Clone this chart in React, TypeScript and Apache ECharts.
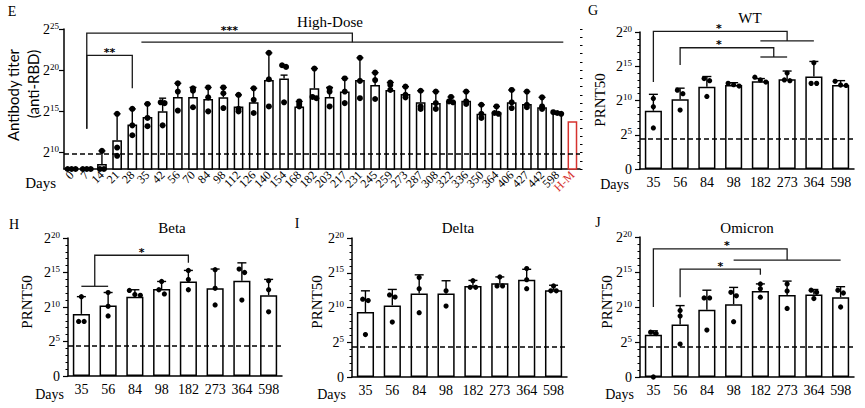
import { useEffect, useRef } from 'react';
import * as echarts from 'echarts';

const SERIF = '"Liberation Serif", "DejaVu Serif", serif';
const SANS = 'Lato, "Liberation Sans", sans-serif';
const HM_RED = '#d6322e';
const INK = '#000';

// ---------- Panel E (High-Dose anti-RBD titer, log2) ----------
const eDays = ['0','7','14','21','28','35','42','56','70','84','98','112','126','140','154','168','182','203','217','231','245','259','273','287','308','322','336','350','364','406','427','442','598','H-M'];
const eMeans = [8.0, 8.0, 8.6, 11.5, 13.4, 14.3, 15.0, 16.75, 16.75, 16.5, 16.7, 15.6, 16.1, 18.8, 19.0, 15.6, 17.8, 16.75, 17.4, 18.8, 18.2, 17.6, 17.1, 16.1, 16.0, 16.2, 16.3, 14.7, 14.9, 16.1, 15.9, 15.5, 14.8, 13.8];
const eErrTop = [null, null, 10.2, 14.7, 15.3, 15.9, 16.6, 18.4, 17.9, 17.9, 17.9, 17.0, 17.8, 22.1, 19.4, 16.2, 20.2, 17.9, 19.0, 21.5, 19.7, 18.5, 18.0, 17.5, 17.4, 16.75, 17.4, 15.8, 15.6, 17.6, 17.4, 16.7, 14.9, null];
const ePoints = [
  [8, 8, 8], [8, 8, 8], [10.2, 8, 8], [14.7, 10.6, 9.6], [15.3, 13.3, 12.1], [15.9, 14.2, 13.2],
  [16.1, 16.0, 13.3], [18.4, 17.4, 15.1], [17.8, 17.5, 15.5], [17.9, 16.7, 15.0], [17.9, 17.2, 15.4],
  [17.0, 15.3, 15.0], [17.8, 16.4, 14.8], [22.1, 18.9, 15.6], [20.6, 20.4, 16.1], [16.2, 15.9, 15.6],
  [20.2, 16.75, 16.6], [17.8, 17.4, 15.6], [19.0, 17.4, 16.0], [21.5, 18.7, 16.6], [19.7, 18.8, 16.5],
  [18.5, 18.2, 17.6], [18.0, 17.0, 16.7], [17.5, 15.6, 15.3], [17.4, 16.0, 15.3], [16.75, 16.2, 16.1],
  [17.4, 16.2, 15.9], [15.8, 14.7, 14.2], [15.6, 14.8, 14.7], [17.6, 16.1, 15.4], [17.4, 15.8, 15.5],
  [16.7, 15.6, 15.3], [14.9, 14.8, 14.7], []
];
const eLimit = 9.8;
const eTicks = [10, 15, 20, 25];

// ---------- PRNT50 panels (log2) ----------
const prntDays = ['35', '56', '84', '98', '182', '273', '364', '598'];
const prntLimit = 4.36;

const wtMeans = [8.5, 10.2, 12.0, 12.25, 12.8, 13.1, 13.5, 12.25];
const wtErrTop = [10.9, 11.8, 13.5, 12.6, 13.2, 14.3, 15.7, 12.9];
const wtPoints = [[10.3, 9.1, 6.0], [11.5, 11.0, 8.6], [13.2, 12.9, 10.6], [12.5, 12.3, 12.1], [13.4, 13.0, 12.7], [14.0, 13.0, 12.9], [15.5, 12.5, 12.5], [12.8, 12.25, 12.2]];

const betaMeans = [9.0, 10.2, 11.5, 12.6, 13.7, 12.7, 13.8, 11.7];
const betaErrTop = [11.5, 12.1, 12.5, 13.7, 15.3, 15.5, 16.4, 14.0];
const betaPoints = [[11.5, 7.9, 7.9], [12.1, 10.1, 8.7], [12.4, 11.8, 11.7], [13.7, 12.5, 11.9], [15.3, 14.0, 12.5], [15.4, 12.7, 10.3], [15.5, 15.0, 11.0], [13.8, 12.5, 9.3]];

const deltaMeans = [9.35, 10.3, 12.0, 12.0, 13.1, 13.5, 14.0, 12.5];
const deltaErrTop = [12.4, 12.6, 14.7, 13.85, 13.9, 14.4, 15.5, 13.2];
const deltaPoints = [[11.2, 11.0, 6.1], [11.8, 11.5, 7.9], [14.3, 12.7, 9.25], [12.4, 10.2], [13.85, 12.9, 12.9], [14.4, 13.1, 13.1], [15.6, 14.0, 12.7], [13.1, 12.4, 12.4]];

const omicronMeans = [6.05, 7.5, 9.6, 10.4, 12.3, 11.7, 11.8, 11.4];
const omicronErrTop = [6.6, 10.2, 12.4, 12.8, 13.3, 13.7, 12.5, 12.9];
const omicronPoints = [[6.4, 6.2, 0], [9.5, 8.7, 4.7], [11.3, 11.3, 6.7], [12.1, 11.6, 7.9], [13.3, 12.6, 11.4], [13.3, 12.3, 9.8], [12.4, 12.1, 11.2], [12.4, 12.0, 10.0]];

// Significance brackets (category index, log2 level)
type Bracket = { x1: number; x2: number; y: number; y1: number; y2: number; star: string; sx?: number; subL?: number[]; subR?: number[] };
const eBrackets: Bracket[] = [
  { x1: 1, x2: 4, y: 21.8, y1: 12.9, y2: 17.8, star: '**' },
  { x1: 1, x2: 18.5, y: 24.5, y1: 12.9, y2: 23.4, star: '***', sx: 10.4, subR: [4.6, 32.4] },
];
const wtBrackets: Bracket[] = [
  { x1: 0, x2: 5, y: 20.1, y1: 12.7, y2: 18.7, star: '*', sx: 2.45, subR: [4, 6] },
  { x1: 1, x2: 4.5, y: 17.7, y1: 15.2, y2: 16.35, star: '*', sx: 2.45, subR: [4, 5] },
];
const betaBrackets: Bracket[] = [
  { x1: 0.5, x2: 4, y: 17.5, y1: 13.0, y2: 16.4, star: '*', subL: [0, 1] },
];
const deltaBrackets: Bracket[] = [];
const omicronBrackets: Bracket[] = [
  { x1: 0, x2: 5, y: 18.3, y1: 10.0, y2: 16.7, star: '*', sx: 2.75, subR: [3, 7] },
  { x1: 1, x2: 4, y: 15.4, y1: 11.4, y2: 14.6, star: '*' },
];

const axisLineStyle = { color: INK, width: 1.5 };

function supLabel(v: number) {
  return v === 0 ? '0' : `{b|2}{s|${v}}`;
}
const supRich = {
  b: { fontSize: 14, lineHeight: 16, fontFamily: SERIF, color: INK },
  s: { fontSize: 9, lineHeight: 9, fontFamily: SERIF, color: INK, verticalAlign: 'top' },
};

function dotSeries(pi: number, yi: number, pts: number[][], r: number, spreadGap: number, spacing: number) {
  return {
    type: 'custom', xAxisIndex: pi, yAxisIndex: yi, z: 6, silent: true,
    itemStyle: { color: INK },
    data: pts.map((p, i) => [i, p.length ? p[0] : 0]),
    renderItem: (params: any, api: any) => {
      const vals = pts[params.dataIndex];
      if (!vals || !vals.length) return null;
      const pix = vals.map((v) => api.coord([params.dataIndex, v]));
      const order = pix.map((_: any, k: number) => k).sort((a: number, b: number) => pix[a][1] - pix[b][1]);
      const offsets = new Array(pix.length).fill(0);
      let g = [order[0]];
      const flush = () => { g.forEach((k, j) => { offsets[k] = (j - (g.length - 1) / 2) * spacing; }); };
      for (let j = 1; j < order.length; j++) {
        if (pix[order[j]][1] - pix[g[g.length - 1]][1] < spreadGap) g.push(order[j]);
        else { flush(); g = [order[j]]; }
      }
      flush();
      return {
        type: 'group',
        children: pix.map((p: number[], k: number) => ({ type: 'circle', shape: { cx: p[0] + offsets[k], cy: p[1], r }, style: { fill: INK } })),
      };
    },
  };
}

function errSeries(pi: number, yi: number, means: number[], err: (number | null)[], cap: number) {
  return {
    type: 'custom', xAxisIndex: pi, yAxisIndex: yi, z: 5, silent: true,
    itemStyle: { color: INK },
    data: means.map((m, i) => [i, m]),
    renderItem: (params: any, api: any) => {
      const i = params.dataIndex;
      const top = err[i];
      if (top == null) return null;
      const a = api.coord([i, means[i]]);
      const b = api.coord([i, top]);
      const st = { stroke: INK, lineWidth: 1.4 };
      return {
        type: 'group',
        children: [
          { type: 'line', shape: { x1: a[0], y1: a[1], x2: b[0], y2: b[1] }, style: st },
          { type: 'line', shape: { x1: b[0] - cap, y1: b[1], x2: b[0] + cap, y2: b[1] }, style: st },
        ],
      };
    },
  };
}

function bracketSeries(pi: number, yi: number, brackets: Bracket[]) {
  return {
    type: 'custom', xAxisIndex: pi, yAxisIndex: yi, z: 7, silent: true, clip: false,
    itemStyle: { color: INK },
    data: brackets.map((b) => [b.x1, b.y]),
    renderItem: (params: any, api: any) => {
      const b = brackets[params.dataIndex];
      const px = (x: number, y: number) => {
        const i0 = Math.floor(x), i1 = Math.ceil(x);
        const a = api.coord([i0, y]);
        if (i0 === i1) return a;
        const c = api.coord([i1, y]);
        const t = x - i0;
        return [a[0] + (c[0] - a[0]) * t, a[1]];
      };
      const st = { stroke: '#1a1a1a', lineWidth: 1.3, fill: null };
      const children: any[] = [
        { type: 'polyline', shape: { points: [px(b.x1, b.y1), px(b.x1, b.y), px(b.x2, b.y), px(b.x2, b.y2)] }, style: st },
      ];
      if (b.subR) children.push({ type: 'polyline', shape: { points: [px(b.subR[0], b.y2), px(b.subR[1], b.y2)] }, style: st });
      if (b.subL) children.push({ type: 'polyline', shape: { points: [px(b.subL[0], b.y1), px(b.subL[1], b.y1)] }, style: st });
      return { type: 'group', children };
    },
  };
}

function barSeries(pi: number, yi: number, means: number[], limit: number, cats: string[]) {
  return {
    type: 'bar', xAxisIndex: pi, yAxisIndex: yi, z: 2, silent: true, barWidth: '64%',
    data: means.map((m, i) => ({
      value: m,
      itemStyle: { color: '#fff', borderColor: cats[i] === 'H-M' ? HM_RED : INK, borderWidth: 1.5 },
    })),
    markLine: {
      silent: true, symbol: ['none', 'none'], label: { show: false }, z: 4,
      lineStyle: { color: INK, width: 1.6, type: [5, 3] },
      data: [{ yAxis: limit }],
    },
  };
}

export default function App() {
  const ref = useRef<HTMLDivElement>(null);
  useEffect(() => {
    if (!ref.current) return;
    const chart = echarts.init(ref.current, null, { renderer: 'svg' });

    const grids = [
      { left: 64, top: 29, width: 516, height: 140 },
      { left: 640, top: 32, width: 214, height: 137 },
      { left: 68, top: 238, width: 214, height: 138 },
      { left: 352, top: 238, width: 215, height: 139 },
      { left: 640, top: 237, width: 214, height: 140 },
    ];

    const xAxis: any[] = [
      {
        gridIndex: 0, type: 'category', data: eDays,
        axisLine: { lineStyle: axisLineStyle },
        axisTick: { alignWithLabel: true, length: 3, lineStyle: { color: INK, width: 1.2 } },
        axisLabel: {
          interval: 0, rotate: 45, fontSize: 12, fontFamily: SERIF, color: INK, margin: 4,
          formatter: (v: string) => (v === 'H-M' ? `{r|${v}}` : v),
          rich: { r: { color: HM_RED, fontSize: 12, fontFamily: SERIF } },
        },
      },
      ...[1, 2, 3, 4].map((g) => ({
        gridIndex: g, type: 'category', data: prntDays,
        axisLine: { lineStyle: axisLineStyle },
        axisTick: { alignWithLabel: true, length: 4, lineStyle: { color: INK, width: 1.2 } },
        axisLabel: { interval: 0, fontSize: 14, fontFamily: SERIF, color: INK, margin: 6 },
      })),
    ];

    const yAxis: any[] = [
      {
        gridIndex: 0, type: 'value', min: 8, max: 25, interval: 1,
        axisLine: { show: true, lineStyle: axisLineStyle },
        axisTick: { show: true, length: 5, customValues: eTicks, lineStyle: { color: INK, width: 1.2 } },
        axisLabel: { customValues: eTicks, formatter: supLabel, rich: supRich, margin: 5, color: INK },
        splitLine: { show: false },
      },
      ...[1, 2, 3, 4].map((g) => ({
        gridIndex: g, type: 'value', min: 0, max: 20, interval: 5,
        axisLine: { show: true, lineStyle: axisLineStyle },
        axisTick: { show: true, length: 5, lineStyle: { color: INK, width: 1.2 } },
        minorTick: { show: true, splitNumber: 5, length: 2.5, lineStyle: { color: INK, width: 1 } },
        axisLabel: { formatter: supLabel, rich: supRich, margin: 8, fontSize: 14, fontFamily: SERIF, color: INK },
        splitLine: { show: false },
      })),
      {
        gridIndex: 0, type: 'value', min: 8, max: 25, interval: 1,
        axisLine: { show: false },
        axisTick: { show: true, length: 2.5, lineStyle: { color: INK, width: 1 } },
        axisLabel: { show: false },
        splitLine: { show: false },
      },
    ];

    const panels = [
      { cats: eDays, means: eMeans, err: eErrTop, pts: ePoints, limit: eLimit, br: eBrackets, r: 3, cap: 3.5, gap: 2, sp: 4 },
      { cats: prntDays, means: wtMeans, err: wtErrTop, pts: wtPoints, limit: prntLimit, br: wtBrackets, r: 2.6, cap: 4.5, gap: 4.2, sp: 5.5 },
      { cats: prntDays, means: betaMeans, err: betaErrTop, pts: betaPoints, limit: prntLimit, br: betaBrackets, r: 2.6, cap: 4.5, gap: 4.2, sp: 5.5 },
      { cats: prntDays, means: deltaMeans, err: deltaErrTop, pts: deltaPoints, limit: prntLimit, br: deltaBrackets, r: 2.6, cap: 4.5, gap: 4.2, sp: 5.5 },
      { cats: prntDays, means: omicronMeans, err: omicronErrTop, pts: omicronPoints, limit: prntLimit, br: omicronBrackets, r: 2.6, cap: 4.5, gap: 4.2, sp: 5.5 },
    ];

    const series: any[] = [];
    panels.forEach((p, i) => {
      series.push(barSeries(i, i, p.means, p.limit, p.cats));
      series.push(errSeries(i, i, p.means, p.err, p.cap));
      series.push(dotSeries(i, i, p.pts, p.r, p.gap, p.sp));
      if (p.br.length) series.push(bracketSeries(i, i, p.br));
    });

    const txt = (text: string, x: number, y: number, size: number, extra: any = {}) => ({
      type: 'text', x, y, silent: true, z: 10,
      style: { text, fontSize: size, fontFamily: SERIF, fill: INK, align: 'center', verticalAlign: 'middle', ...extra },
    });
    const vtxt = (text: string, x: number, y: number, size: number, family = SERIF) => ({
      type: 'text', x, y, rotation: Math.PI / 2, silent: true,
      style: { text, fontSize: size, fontFamily: family, fill: INK, align: 'center', verticalAlign: 'middle' },
    });

    const graphic: any[] = [
      txt('E', 12, 11, 14), txt('G', 593, 10, 14), txt('H', 14, 224, 14), txt('I', 297, 223, 14), txt('J', 598, 222, 14),
      txt('High-Dose', 330, 22, 15), txt('WT', 750, 18, 15), txt('Beta', 172, 228, 15), txt('Delta', 458, 228, 15), txt('Omicron', 747, 228, 15),
      txt('Days', 56, 183, 15, { align: 'right' }), txt('Days', 629, 184, 14, { align: 'right' }),
      txt('Days', 64, 394, 14, { align: 'right' }), txt('Days', 346, 394, 14, { align: 'right' }), txt('Days', 634, 394, 14, { align: 'right' }),
      vtxt('Antibody titer', 13, 95, 15, SANS), vtxt('(anti-RBD)', 33, 84, 15, SANS),
      vtxt('PRNT50', 600, 100, 15), vtxt('PRNT50', 27, 302, 15), vtxt('PRNT50', 317, 302, 15), vtxt('PRNT50', 607, 302, 15),
    ];

    chart.setOption({
      animation: false,
      backgroundColor: '#fff',
      textStyle: { fontFamily: SERIF },
      grid: grids,
      xAxis,
      yAxis,
      series,
      graphic,
    });

    // Significance stars, placed through the axes' own scales
    const stars: any[] = [];
    panels.forEach((p, i) => {
      p.br.forEach((b) => {
        const sx = b.sx ?? (b.x1 + b.x2) / 2;
        const i0 = Math.floor(sx), i1 = Math.ceil(sx);
        const finder = { xAxisIndex: i, yAxisIndex: i };
        const a = chart.convertToPixel(finder, [i0, b.y]) as number[];
        const c = chart.convertToPixel(finder, [i1, b.y]) as number[];
        const x = a[0] + (c[0] - a[0]) * (sx - i0);
        stars.push(txt(b.star, x, a[1] - 3, 14, { fontWeight: 'bold', fontFamily: '"DejaVu Sans", sans-serif', fontSize: 11 }));
      });
    });
    chart.setOption({ graphic: [...graphic, ...stars] });

    return () => chart.dispose();
  }, []);
  return <div ref={ref} style={{ position: 'absolute', left: 0, top: 0, width: 865, height: 408 }} />;
}
